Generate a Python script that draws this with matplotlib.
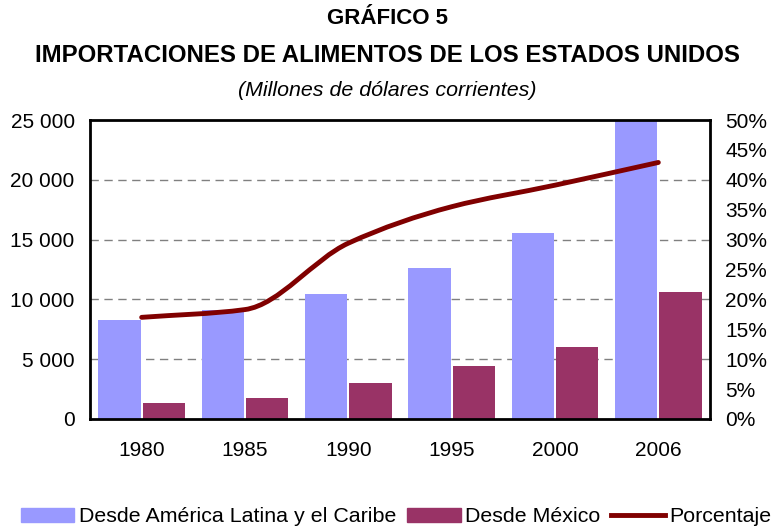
import numpy as np
import matplotlib
matplotlib.use('Agg')
from matplotlib import pyplot as plt
from matplotlib.ticker import FuncFormatter
from matplotlib.path import Path
from matplotlib.patches import PathPatch, Patch
from matplotlib.lines import Line2D

plt.rcParams['font.family'] = ['Liberation Sans', 'DejaVu Sans']

anios = ['1980', '1985', '1990', '1995', '2000', '2006']
america_latina = [8250, 9080, 10440, 12610, 15530, 26500]
mexico = [1360, 1780, 3030, 4440, 6030, 10580]
porcentaje = [17.0, 18.3, 29.4, 35.5, 39.1, 42.9]

color_al = '#9999ff'
color_mx = '#993366'
color_linea = '#800000'

fig = plt.figure(figsize=(7.75, 5.27), dpi=100)
ax = fig.add_axes([90 / 775, 1 - 419 / 527, 620 / 775, 299 / 527])

x = np.arange(len(anios))
ancho = 0.41
ax.bar(x - 0.215, america_latina, ancho, color=color_al, zorder=2)
ax.bar(x + 0.215, mexico, ancho, color=color_mx, zorder=2)

ax.set_xlim(-0.5, len(anios) - 0.5)
ax.set_ylim(0, 25000)
ax.set_yticks(range(0, 25001, 5000))
ax.yaxis.set_major_formatter(FuncFormatter(lambda v, p: f'{int(v):,}'.replace(',', ' ')))
ax.set_xticks(x)
ax.set_xticklabels(anios)
ax.tick_params(length=0, labelsize=15)
ax.tick_params(axis='y', pad=11)
ax.tick_params(axis='x', pad=16)
for v in range(5000, 25000, 5000):
    ax.axhline(v, color='#808080', lw=1, ls=(0, (6, 4)), zorder=1)
for s in ax.spines.values():
    s.set_linewidth(2)
    s.set_zorder(5)

ax2 = ax.twinx()
ax2.set_ylim(0, 50)
ax2.set_yticks(range(0, 51, 5))
ax2.yaxis.set_major_formatter(FuncFormatter(lambda v, p: f'{int(v)}%'))
ax2.tick_params(length=0, labelsize=15, pad=11)
for s in ax2.spines.values():
    s.set_visible(False)

# linea suavizada (tangentes monotonas, curvas Bezier)
px = x.astype(float)
py = np.array(porcentaje)
n = len(px)
d = np.diff(py) / np.diff(px)
m = np.zeros(n)
m[0], m[-1] = d[0], d[-1]
for i in range(1, n - 1):
    if d[i - 1] * d[i] > 0:
        m[i] = 2 * d[i - 1] * d[i] / (d[i - 1] + d[i])
verts = [(px[0], py[0])]
codes = [Path.MOVETO]
for i in range(n - 1):
    h = px[i + 1] - px[i]
    verts += [(px[i] + h / 3, py[i] + m[i] * h / 3),
              (px[i + 1] - h / 3, py[i + 1] - m[i + 1] * h / 3),
              (px[i + 1], py[i + 1])]
    codes += [Path.CURVE4] * 3
ax2.add_patch(PathPatch(Path(verts, codes), fill=False, edgecolor=color_linea,
                        lw=3.5, capstyle='round', zorder=4))

fig.text(0.5, 1 - 18 / 527, 'GRÁFICO 5', ha='center', va='center',
         fontsize=16, fontweight='bold')
fig.text(0.5, 1 - 55 / 527, 'IMPORTACIONES DE ALIMENTOS DE LOS ESTADOS UNIDOS',
         ha='center', va='center', fontsize=17.3, fontweight='bold')
fig.text(0.5, 1 - 90 / 527, '(Millones de dólares corrientes)', ha='center',
         va='center', fontsize=15.4, style='italic')

handles = [Patch(color=color_al), Patch(color=color_mx),
           Line2D([], [], color=color_linea, lw=3.5)]
etiquetas = ['Desde América Latina y el Caribe', 'Desde México', 'Porcentaje']
fig.legend(handles, etiquetas, loc='center left', bbox_to_anchor=(21 / 775, 1 - 517 / 527),
           ncol=3, frameon=False, fontsize=15.4, handlelength=2.5, handleheight=0.65,
           handletextpad=0.22, columnspacing=0.5, borderpad=0, borderaxespad=0)

fig.savefig('out.png', dpi=100)
